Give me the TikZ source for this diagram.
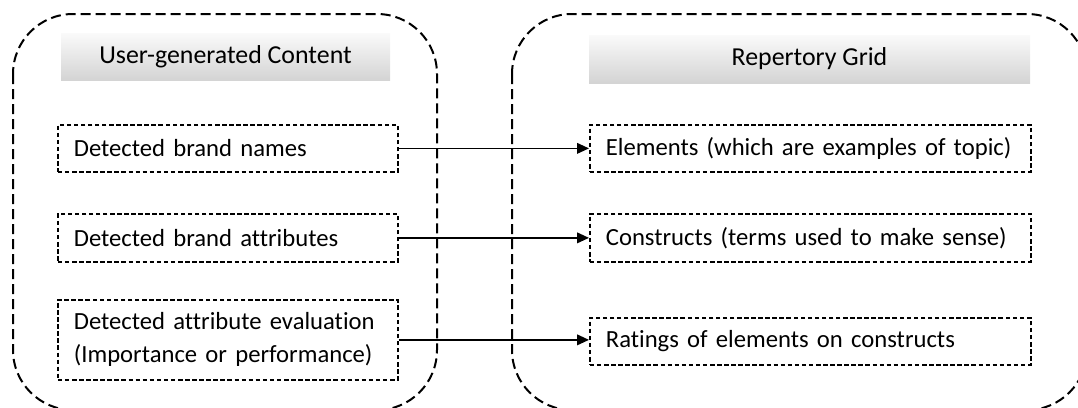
\documentclass[tikz,border=0pt]{standalone}
\usepackage{fontspec}
\setmainfont{Carlito}[Ligatures=NoCommon]
\usetikzlibrary{arrows.meta}

\tikzset{every picture/.style={line width=0.75pt}}
\tikzset{
  panel/.style={draw, line width=1.5pt, dash pattern=on 7.5pt off 3.75pt, rounded corners=45pt},
  heading/.style={top color=black!2, bottom color=black!17, draw=none, inner sep=0pt, font=\fontsize{19.4}{24.75}\selectfont},
  itembox/.style={draw, line width=1.3pt, dash pattern=on 3.4pt off 1.9pt, anchor=north west, inner xsep=12pt, inner ysep=0pt, align=left, font=\fontsize{18.5}{24.75}\selectfont},
  link/.style={line width=1.3pt, -{Triangle[length=9pt,width=8pt]}}
}

\begin{document}
\begin{tikzpicture}[x=0.75pt,y=0.75pt,yscale=-1,xscale=1]
\useasboundingbox (0,0) rectangle (1078,407);
\clip (0,0) rectangle (1078,407);

%Shape: Rounded Rect [left panel]
\draw [panel] (13,14) rectangle (437,410) ;
%Shape: Rounded Rect [right panel]
\draw [panel] (512,14) rectangle (1087,410) ;

% Text Node
\node [heading, minimum width=246.75pt, minimum height=35.25pt] (ugc) at (225.5,56.75) {User-generated Content};
% Text Node
\node [heading, minimum width=330.75pt, minimum height=36pt] (rg) at (809.5,59) {Repertory Grid};

%Flowchart: Process [left column]
\node [itembox, text width=231pt, minimum height=35.25pt] (names) at (57,124) {Detected brand names};
\node [itembox, text width=231pt, minimum height=36pt] (attrs) at (57,213) {Detected brand attributes};
\node [itembox, text width=231pt, minimum height=60pt] (evals) at (57,299) {Detected attribute evaluation\\(Importance or performance)};

%Flowchart: Process [right column]
\node [itembox, text width=306.75pt, minimum height=35.25pt] (elements) at (589,124) {\mbox{Elements (which are examples of topic)}};
\node [itembox, text width=306.75pt, minimum height=36pt] (constructs) at (589,213) {\mbox{Constructs (terms used to make sense)}};
\node [itembox, text width=306.75pt, minimum height=35.25pt] (ratings) at (589,317) {Ratings of elements on constructs};

%Straight Lines
\draw [link] (names.east) -- (elements.west) ;
\draw [link] (attrs.east) -- (constructs.west) ;
\draw [link] (evals.east) -- (evals.east -| ratings.west) ;

\end{tikzpicture}
\end{document}
